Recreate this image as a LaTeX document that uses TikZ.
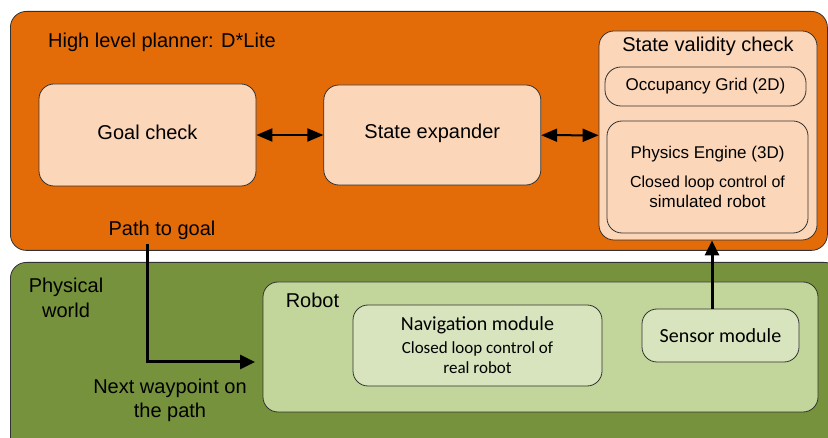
\documentclass[tikz,border=0pt]{standalone}
\usepackage{fontspec}
\setmainfont{Liberation Sans}
\newfontfamily\calibrifont{Carlito}
\definecolor{plnorange}{RGB}{227,108,9}
\definecolor{plnpeach} {RGB}{251,214,184}
\definecolor{wldgreen} {RGB}{118,146,60}
\definecolor{wldlight} {RGB}{194,214,155}
\definecolor{wldpale}  {RGB}{215,228,189}
\definecolor{edgegray} {RGB}{50,50,50}
\usetikzlibrary{arrows.meta,positioning}
\tikzset{
  panel/.style={rectangle,rounded corners=16pt,draw=edgegray,line width=0.8pt,
                fill=#1,anchor=north west,inner sep=0pt},
  panel/.default=plnorange,
  box/.style={rectangle,rounded corners=#1,draw=edgegray,line width=0.8pt,
              inner sep=0pt,align=center},
  box/.default=15pt,
  lbl/.style={inner sep=0pt,align=center},
  big/.style={font=\fontsize{20}{24}\selectfont},
  mid/.style={font=\fontsize{17}{20}\selectfont},
  arr/.style={-{Triangle[length=15pt,width=14pt]},line width=3pt,black},
  dblarr/.style={{Triangle[length=16pt,width=13pt]}-{Triangle[length=16pt,width=13pt]},
                 line width=2pt,black},
}

\begin{document}
\begin{tikzpicture}[
        x=1pt, y=-1pt,
        node distance = 67pt,
        calbig/.style = {font=\calibrifont\fontsize{20}{24}\selectfont},
        calmid/.style = {font=\calibrifont\fontsize{17}{20}\selectfont}
      ]
        \useasboundingbox (0,0) rectangle (828,438);
        \clip (0,0) rectangle (828,438);
        \node[panel=plnorange, minimum width=817pt, minimum height=239pt] (planner) at (10,11) {};
        \node[panel=wldgreen, minimum width=830pt, minimum height=200pt] (world) at (10,262) {};

        \node[lbl, big, anchor=west] (plannerlbl) at (48,42) {High level planner: D*Lite};
        \node[box, fill=plnpeach, minimum width=217pt, minimum height=102pt, big,
              text depth=6pt] (goal) at (147.5,135) {Goal check};
        \node[box, fill=plnpeach, minimum width=217pt, minimum height=100pt, big,
              text depth=8pt, right=of goal] (expander) {State expander};
        \node[box, fill=plnpeach, minimum width=218pt, minimum height=209pt] (valid)
          at (708,135.5) {};
        \node[lbl, big, below=6pt of valid.north] (validlbl) {State validity check};
        \node[box=16pt, fill=plnpeach, minimum width=201pt, minimum height=39pt, mid] (occgrid)
          at (705.5,86.5) {Occupancy Grid (2D)};
        \node[box, fill=plnpeach, minimum width=201pt, minimum height=112pt, mid] (physics)
          at (707.5,177) {Physics Engine (3D)\\[9pt]\fontsize{16}{19}\selectfont
          Closed loop control of\\simulated robot};
        \node[lbl, big] (pathlbl) at (162,230) {Path to goal};

        \node[lbl, font=\fontsize{20}{25}\selectfont] (worldlbl) at (66,297.5) {Physical\\world};
        \node[box, fill=wldlight, minimum width=555pt, minimum height=130pt] (robot)
          at (540.5,347) {};
        \node[lbl, big, below right=11pt and 23pt of robot.north west] (robotlbl) {Robot};
        \node[box, fill=wldpale, minimum width=249pt, minimum height=81pt, calmid] (nav)
          at (477.5,345.5) {{\fontsize{20}{24}\selectfont Navigation module}\\[3pt]
          Closed loop control of\\real robot};
        \node[box, fill=wldpale, minimum width=157pt, minimum height=53pt, calbig] (sensor)
          at (720.5,335.5) {Sensor module};
        \node[lbl, big] (waypointlbl) at (170,400) {Next waypoint on\\the path};
        \coordinate (wpend) at (255,362);

        \foreach \a/\b in {goal/expander, expander/valid}
          \draw[dblarr] (\a) -- (\b);
        \draw[arr, shorten <=4pt] (pathlbl.south -| goal.south) |- (wpend);
        \draw[arr] ([xshift=4pt]valid.south |- sensor.north) -- ([xshift=4pt]valid.south);
      \end{tikzpicture}
\end{document}
